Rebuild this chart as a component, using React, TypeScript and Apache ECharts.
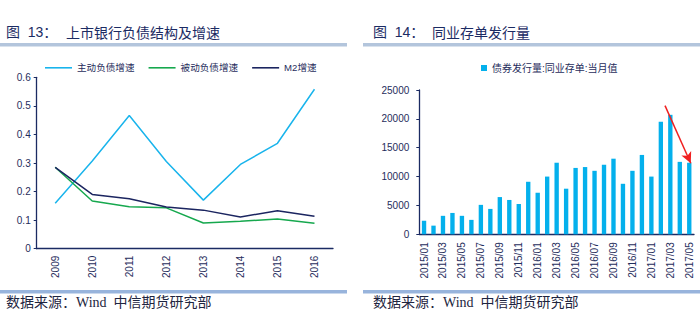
import React, { useEffect, useRef } from "react";
import * as echarts from "echarts";

const years = ["2009", "2010", "2011", "2012", "2013", "2014", "2015", "2016"];
const activeGrowth = [0.159, 0.307, 0.466, 0.305, 0.17, 0.295, 0.369, 0.558];
const passiveGrowth = [0.285, 0.167, 0.147, 0.143, 0.09, 0.096, 0.104, 0.089];
const m2Growth = [0.285, 0.19, 0.175, 0.146, 0.135, 0.111, 0.133, 0.114];

const months = [
  "2015/01", "2015/02", "2015/03", "2015/04", "2015/05", "2015/06", "2015/07", "2015/08",
  "2015/09", "2015/10", "2015/11", "2015/12", "2016/01", "2016/02", "2016/03", "2016/04",
  "2016/05", "2016/06", "2016/07", "2016/08", "2016/09", "2016/10", "2016/11", "2016/12",
  "2017/01", "2017/02", "2017/03", "2017/04", "2017/05",
];
const ncdIssuance = [
  2350, 1500, 3200, 3700, 3200, 2500, 5100, 4400, 6450, 5950, 5250, 9100, 7200, 10000,
  12400, 7900, 11500, 11650, 11000, 12050, 13100, 8750, 11000, 13750, 10000, 19500, 20700,
  12550, 12400,
];
// arrow annotation (value-axis positions over the month axis)
const arrowStart = [25.94, 22300];
const arrowEnd = [28.66, 12300];

const navy = "#1b2b63";
const labelColor = "#1f2d5c";

export default function App() {
  const ref = useRef<HTMLDivElement>(null);
  useEffect(() => {
    const chart = echarts.init(ref.current!, null, { renderer: "svg" });
    const axisLabel = { color: labelColor, fontSize: 10, fontFamily: "Liberation Sans, Arial, sans-serif" };
    chart.setOption({
      animation: false,
      backgroundColor: "#ffffff",
      textStyle: { fontFamily: "Liberation Sans, Noto Sans CJK SC, sans-serif" },
      graphic: [
        { type: "text", left: 6, top: 25, style: { text: "图  13：", fontSize: 14, fill: navy, fontFamily: "Liberation Sans, Noto Sans CJK SC" } },
        { type: "text", left: 66, top: 25, style: { text: "上市银行负债结构及增速", fontSize: 14, fill: navy, fontFamily: "Noto Sans CJK SC" } },
        { type: "rect", shape: { x: 0, y: 43, width: 347, height: 3.5 }, style: { fill: "#b3c5dc" } },
        { type: "text", left: 373, top: 25, style: { text: "图  14：", fontSize: 14, fill: navy, fontFamily: "Liberation Sans, Noto Sans CJK SC" } },
        { type: "text", left: 432, top: 25, style: { text: "同业存单发行量", fontSize: 14, fill: navy, fontFamily: "Noto Sans CJK SC" } },
        { type: "rect", shape: { x: 363, y: 43, width: 337, height: 3.5 }, style: { fill: "#b3c5dc" } },
        { type: "rect", shape: { x: 0, y: 290, width: 347, height: 3.5 }, style: { fill: "#98b4dc" } },
        { type: "rect", shape: { x: 363, y: 290, width: 337, height: 3.5 }, style: { fill: "#98b4dc" } },
        { type: "text", left: 6, top: 295, style: { text: "数据来源：Wind  中信期货研究部", fontSize: 14, fill: "#1e2540", fontFamily: "Liberation Serif, Noto Sans CJK SC" } },
        { type: "text", left: 373, top: 295, style: { text: "数据来源：Wind  中信期货研究部", fontSize: 14, fill: "#1e2540", fontFamily: "Liberation Serif, Noto Sans CJK SC" } },
      ],
      legend: [
        {
          left: 40, top: 58, itemWidth: 27, itemHeight: 1.6, itemGap: 14,
          icon: "rect",
          textStyle: { fontSize: 9.6, color: labelColor },
          data: ["主动负债增速", "被动负债增速", "M2增速"],
        },
        {
          left: 476, top: 58, itemWidth: 6, itemHeight: 6, icon: "rect",
          textStyle: { fontSize: 10, color: labelColor },
          data: ["债券发行量:同业存单:当月值"],
        },
      ],
      grid: [
        { left: 36.7, top: 77.3, right: 367, bottom: 74.3 },
        { left: 419.3, top: 90, right: 6, bottom: 88.7 },
      ],
      xAxis: [
        {
          type: "category", gridIndex: 0, data: years, boundaryGap: true,
          axisLine: { lineStyle: { color: navy, width: 1.3 } },
          axisTick: { inside: true, length: 4, lineStyle: { color: navy } },
          axisLabel: { ...axisLabel, rotate: 90, margin: 7 },
        },
        {
          type: "category", gridIndex: 1, data: months, boundaryGap: true,
          axisLine: { lineStyle: { color: navy, width: 1.3 } },
          axisTick: { inside: true, length: 4, interval: 1, lineStyle: { color: navy } },
          axisLabel: { ...axisLabel, rotate: 90, margin: 8, interval: 1 },
        },
        { type: "value", gridIndex: 1, min: 0, max: 29, show: false },
      ],
      yAxis: [
        {
          type: "value", gridIndex: 0, min: 0, max: 0.6, interval: 0.1,
          splitLine: { show: false },
          axisLine: { show: true, lineStyle: { color: navy, width: 1.3 } },
          axisTick: { show: true, length: 3, lineStyle: { color: navy } },
          axisLabel: { ...axisLabel, margin: 6 },
        },
        {
          type: "value", gridIndex: 1, min: 0, max: 25000, interval: 5000,
          splitLine: { show: false },
          axisLine: { show: true, lineStyle: { color: navy, width: 1.3 } },
          axisTick: { show: true, length: 3, lineStyle: { color: navy } },
          axisLabel: { ...axisLabel, margin: 10, formatter: (v: number) => String(v) },
        },
      ],
      series: [
        { name: "主动负债增速", type: "line", xAxisIndex: 0, yAxisIndex: 0, data: activeGrowth, symbol: "none", lineStyle: { color: "#19b4ec", width: 1.5 }, itemStyle: { color: "#19b4ec" } },
        { name: "被动负债增速", type: "line", xAxisIndex: 0, yAxisIndex: 0, data: passiveGrowth, symbol: "none", lineStyle: { color: "#16a84e", width: 1.5 }, itemStyle: { color: "#16a84e" } },
        { name: "M2增速", type: "line", xAxisIndex: 0, yAxisIndex: 0, data: m2Growth, symbol: "none", lineStyle: { color: "#1b2560", width: 1.5 }, itemStyle: { color: "#1b2560" } },
        { name: "债券发行量:同业存单:当月值", type: "bar", xAxisIndex: 1, yAxisIndex: 1, data: ncdIssuance, barWidth: "46%", itemStyle: { color: "#04b0ec" } },
        {
          type: "scatter", xAxisIndex: 2, yAxisIndex: 1, data: [], silent: true,
          markLine: {
            silent: true, symbol: ["none", "arrow"], symbolSize: [8, 11],
            label: { show: false },
            lineStyle: { color: "#f02020", width: 1.5, type: "solid" },
            data: [[{ coord: arrowStart }, { coord: arrowEnd }]],
          },
        },
      ],
    });
    return () => chart.dispose();
  }, []);
  return <div ref={ref} style={{ position: "absolute", left: 0, top: 0, width: 700, height: 323 }} />;
}
